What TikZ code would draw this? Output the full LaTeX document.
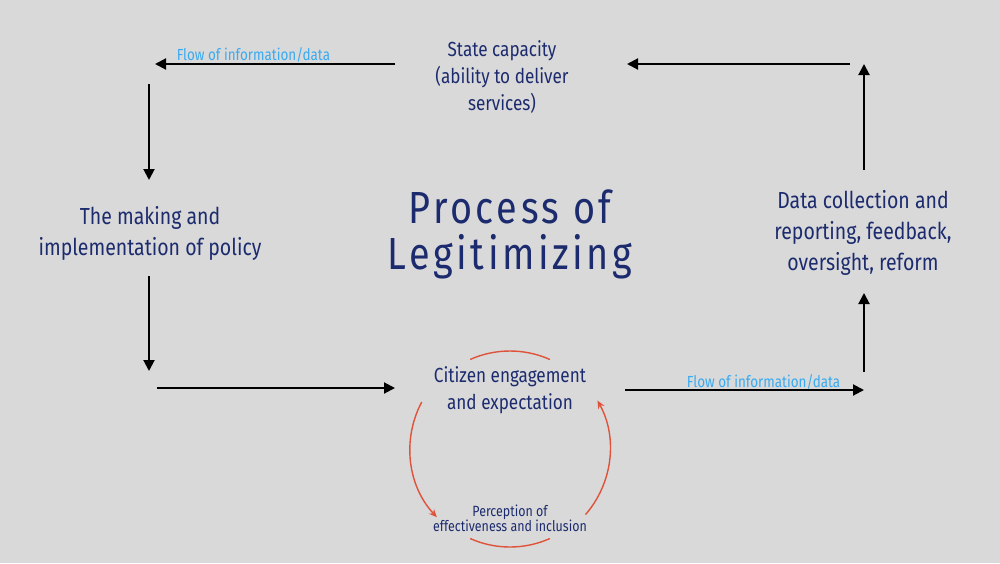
\documentclass[tikz,border=0pt]{standalone}
\usepackage{fontspec}
\setmainfont{Fira Sans}[FakeStretch=0.84]
\usepackage{tikz}
\usetikzlibrary{arrows.meta}

\definecolor{bgrey}{HTML}{D9D9D9}
\definecolor{navy}{HTML}{1C2B6E}
\definecolor{flowblue}{HTML}{3AAAF0}
\definecolor{loopred}{HTML}{E0533B}

\tikzset{
  stage/.style={text=navy, align=center, font=\fontsize{10.2}{13.5}\selectfont},
  bigstage/.style={stage, font=\fontsize{11.6}{15.5}\selectfont},
  flow/.style={text=flowblue, font=\fontsize{8}{9}\selectfont, inner sep=0pt},
  link/.style={line width=1pt, -{Triangle[length=5.5pt,width=5.5pt]}},
  loop/.style={loopred, line width=0.7pt, -{Stealth[length=4pt,width=3.5pt]}},
}

\begin{document}
\begin{tikzpicture}[x=0.5pt, y=-0.5pt]
  \fill[bgrey] (0,0) rectangle (1000,563);
  \useasboundingbox (0,0) rectangle (1000,563);

  \node[stage] (state) at (502,77) {State capacity\\(ability to deliver\\services)};
  \node[bigstage] (policy) at (150,233) {The making and\\implementation of policy};
  \node[bigstage] (data) at (863,233) {Data collection and\\reporting, feedback,\\oversight, reform};
  \node[stage] (citizen) at (510,390) {Citizen engagement\\and expectation};
  \node[stage, font=\fontsize{7.4}{7.4}\selectfont] (perception) at (510,518)
    {Perception of\\effectiveness and inclusion};
  \node[text=navy, align=center,
    font=\fontsize{22.5}{23}\selectfont\addfontfeatures{LetterSpace=8}] (title)
    at (510,234) {Process of\\Legitimizing};

  \coordinate (tl) at (149,64);
  \coordinate (tr) at (864,64);
  \coordinate (bl) at (149,388);
  \coordinate (br) at (864,390);

  % outer cycle
  \draw[link] (395,64) -- (155,64)
    node[flow, pos=0.59, above=0.5pt] {Flow of information/data};
  \draw[link] (tl) ++(0,20) -- (149,180);
  \draw[link] (149,276) -- (149,371);
  \draw[link] (bl) ++(8,0) -- (395,388);
  \draw[link] (625,390) -- (br)
    node[flow, pos=0.58, above=0pt] {Flow of information/data};
  \draw[link] (864,372) -- (864,293);
  \draw[link] (864,170) -- (tr);
  \draw[link] (850,64) -- (627,64);

  % inner loop
  \draw[loopred, line width=0.7pt] (510,449) ++(66:98) arc (66:114:98);
  \draw[loopred, line width=0.7pt] (510,449) ++(246:98) arc (246:294:98);
  \draw[loop] (510,449) ++(208:100) arc (208:137:100);
  \draw[loop] (510,449) ++(41:100) arc (41:-29:100);
\end{tikzpicture}
\end{document}
